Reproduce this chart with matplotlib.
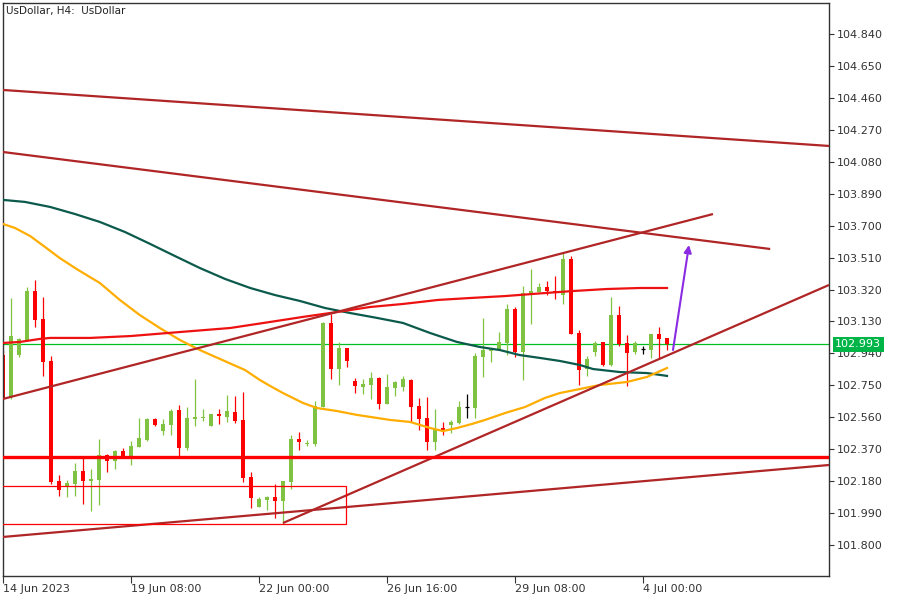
import matplotlib
matplotlib.use('Agg')
import matplotlib.pyplot as plt
from matplotlib.transforms import blended_transform_factory
from matplotlib.patches import Rectangle

# ---------------- data (H4 candles, bar index 0 = 14 Jun 2023) ----------------
opens = [102.930, 102.680, 102.930, 103.020, 103.311, 103.145, 102.895, 102.181, 102.151, 102.163,
         102.240, 102.181, 102.187, 102.336, 102.300, 102.359, 102.330, 102.383, 102.425, 102.550,
         102.478, 102.514, 102.603, 102.377, 102.550, 102.556, 102.508, 102.579, 102.562, 102.591,
         102.544, 102.205, 102.026, 102.068, 102.086, 102.062, 102.175, 102.431, 102.401, 102.401,
         102.621, 103.121, 102.847, 102.972, 102.776, 102.740, 102.752, 102.794, 102.639, 102.734,
         102.740, 102.782, 102.627, 102.556, 102.413, 102.496, 102.514, 102.526, 102.621, 102.615,
         102.918, 102.954, 102.960, 103.002, 103.204, 102.948, 103.293, 103.305, 103.335, 103.311,
         103.287, 103.501, 103.061, 102.847, 102.948, 103.008, 102.871, 103.168, 103.002, 102.948,
         102.966, 102.960, 103.055, 103.032]
highs = [102.960, 103.270, 103.032, 103.335, 103.377, 103.275, 102.924, 102.217, 102.187, 102.288,
         102.318, 102.252, 102.431, 102.340, 102.365, 102.377, 102.419, 102.556, 102.556, 102.556,
         102.550, 102.609, 102.633, 102.621, 102.788, 102.609, 102.579, 102.609, 102.692, 102.686,
         102.710, 102.234, 102.086, 102.092, 102.163, 102.181, 102.454, 102.472, 102.425, 102.657,
         103.127, 103.174, 103.008, 102.972, 102.794, 102.788, 102.829, 102.800, 102.817, 102.776,
         102.805, 102.788, 102.675, 102.680, 102.609, 102.532, 102.544, 102.657, 102.698, 102.942,
         103.150, 102.972, 103.067, 103.234, 103.216, 103.341, 103.442, 103.359, 103.371, 103.400,
         103.543, 103.519, 103.079, 102.924, 103.014, 103.008, 103.275, 103.222, 103.049, 103.014,
         102.984, 103.055, 103.097, 103.032]
lows = [102.663, 102.669, 102.918, 103.014, 103.097, 102.805, 102.163, 102.092, 102.086, 102.092,
        102.044, 102.002, 102.038, 102.234, 102.252, 102.324, 102.276, 102.383, 102.419, 102.508,
        102.454, 102.454, 102.324, 102.365, 102.508, 102.538, 102.508, 102.520, 102.532, 102.526,
        102.175, 102.020, 102.026, 102.008, 101.961, 101.925, 102.133, 102.365, 102.389, 102.389,
        102.621, 102.788, 102.752, 102.859, 102.704, 102.698, 102.669, 102.609, 102.639, 102.686,
        102.716, 102.532, 102.484, 102.365, 102.365, 102.454, 102.466, 102.520, 102.556, 102.556,
        102.800, 102.889, 102.960, 102.930, 102.918, 102.782, 103.115, 103.305, 103.287, 103.264,
        103.234, 103.055, 102.752, 102.805, 102.924, 102.865, 102.865, 102.984, 102.746, 102.936,
        102.936, 102.913, 102.907, 102.960]
closes = [102.675, 103.043, 103.026, 103.311, 103.139, 102.889, 102.175, 102.127, 102.169, 102.240,
          102.181, 102.193, 102.336, 102.300, 102.359, 102.324, 102.389, 102.437, 102.550, 102.514,
          102.520, 102.597, 102.377, 102.556, 102.562, 102.562, 102.579, 102.567, 102.597, 102.538,
          102.199, 102.080, 102.074, 102.086, 102.062, 102.181, 102.431, 102.413, 102.407, 102.627,
          103.121, 102.847, 102.972, 102.895, 102.746, 102.758, 102.794, 102.639, 102.740, 102.770,
          102.788, 102.621, 102.550, 102.413, 102.490, 102.478, 102.532, 102.621, 102.621, 102.924,
          102.960, 102.972, 103.008, 103.204, 102.948, 103.299, 103.311, 103.335, 103.311, 103.299,
          103.501, 103.055, 102.841, 102.907, 103.002, 102.871, 103.168, 102.996, 102.942, 103.002,
          102.966, 103.055, 103.026, 102.993]

# moving averages (bar index, price)
ma_slow_x = [0, 2.75, 5.9, 9, 12.1, 15.25, 18.4, 21.5, 24.6, 27.75, 30.9, 34, 37.1, 40.25, 43.4,
             46.75, 50, 53.4, 56.75, 59.6, 62.1, 64.6, 67.1, 69.6, 72.1, 73.75, 77.1, 80.5, 83]
ma_slow_y = [103.853, 103.841, 103.811, 103.769, 103.722, 103.662, 103.591, 103.519, 103.448, 103.383,
             103.329, 103.287, 103.252, 103.210, 103.180, 103.151, 103.121, 103.061, 103.008, 102.978,
             102.960, 102.930, 102.913, 102.895, 102.871, 102.847, 102.829, 102.823, 102.806]
ma_fast_x = [0, 1.5, 3.4, 5.25, 7.1, 9.4, 12.1, 14.6, 17.1, 19.6, 22.1, 24.6, 27.4, 30.25, 32.1,
             33.4, 35, 37.5, 39.25, 41.75, 44.25, 46.75, 48.4, 50.9, 53.4, 55, 56.75, 58.6, 60.25,
             62.75, 65.25, 67.75, 69.6, 72.1, 74.6, 78, 80.5, 83]
ma_fast_y = [103.710, 103.686, 103.638, 103.573, 103.507, 103.436, 103.359, 103.258, 103.168, 103.091,
             103.020, 102.960, 102.901, 102.841, 102.782, 102.746, 102.704, 102.645, 102.615, 102.597,
             102.574, 102.556, 102.544, 102.532, 102.496, 102.478, 102.496, 102.520, 102.544, 102.585,
             102.621, 102.675, 102.704, 102.728, 102.752, 102.770, 102.800, 102.853]
ma_red_x = [0, 2.1, 4.6, 5.9, 10.9, 15.9, 22.1, 28.4, 33.4, 37.5, 41.75, 45.9, 50, 54.4, 58.6,
            62.75, 67.75, 71.25, 75.5, 79.6, 83]
ma_red_y = [103.002, 103.008, 103.026, 103.032, 103.032, 103.043, 103.067, 103.091, 103.127, 103.157,
            103.186, 103.216, 103.234, 103.258, 103.270, 103.281, 103.299, 103.311, 103.323, 103.329,
            103.329]

# drawn objects: trend lines (x0, y0, x1, y1) in bar index / price
trend_lines = [(0, 104.507, 103.25, 104.174),
               (0, 104.138, 95.9, 103.561),
               (0, 102.669, 88.75, 103.769),
               (35, 101.931, 103.25, 103.347),
               (0, 101.848, 103.25, 102.276)]
support_level = 102.325
bid_price = 102.993
zone_x = [-0.5, 42.9]
zone_y = [101.925, 102.151]
arrow_from = (83.75, 102.960)
arrow_to = (85.75, 103.585)

xtick_pos = [0, 16, 32, 48, 64, 80]
xtick_labels = ['14 Jun 2023', '19 Jun 08:00', '22 Jun 00:00', '26 Jun 16:00', '29 Jun 08:00', '4 Jul 00:00']
ytick_vals = [101.800, 101.990, 102.180, 102.370, 102.560, 102.750, 102.940, 103.130, 103.320,
              103.510, 103.700, 103.890, 104.080, 104.270, 104.460, 104.650, 104.840]

# ---------------- figure ----------------
fig = plt.figure(figsize=(9, 6), dpi=100)
fig.patch.set_facecolor('white')
ax = fig.add_axes([3 / 900, 24 / 600, 826 / 900, 573 / 600])
ax.set_xlim(0, 103.25)
ax.set_ylim(101.6157, 105.0244)

GREEN = '#80c242'
RED = '#ff0000'
BROWN = '#b02525'

# bid line
ax.axhline(bid_price, color='#00c020', lw=0.9, zorder=1)

# candles
bw = 0.62
for i, (o, h, l, c) in enumerate(zip(opens, highs, lows, closes)):
    if abs(c - o) < 1e-9:
        col = 'black'
    elif c > o:
        col = GREEN
    else:
        col = RED
    ax.vlines(i, l, h, color=col, lw=0.9, zorder=2)
    if col == 'black':
        ax.hlines(o, i - bw / 2, i + bw / 2, color=col, lw=0.9, zorder=2)
    else:
        ax.bar(i, abs(c - o), bottom=min(o, c), width=bw, color=col, linewidth=0, zorder=2)

# moving averages
ax.plot(ma_slow_x, ma_slow_y, color='#0b5a4c', lw=1.6, zorder=3)
ax.plot(ma_fast_x, ma_fast_y, color='#ffad00', lw=1.6, zorder=3)
ax.plot(ma_red_x, ma_red_y, color='#ee1111', lw=1.6, zorder=3)

# objects
for x0, y0, x1, y1 in trend_lines:
    ax.plot([x0, x1], [y0, y1], color=BROWN, lw=1.6, zorder=4, solid_capstyle='butt')
ax.axhline(support_level, color=RED, lw=2.4, zorder=4)
ax.add_patch(Rectangle((zone_x[0], zone_y[0]), zone_x[1] - zone_x[0], zone_y[1] - zone_y[0],
                       fill=False, edgecolor=RED, lw=0.9, zorder=4))
ax.annotate('', xy=arrow_to, xytext=arrow_from,
            arrowprops=dict(arrowstyle='-|>', color='#8b2be2', lw=1.5, mutation_scale=11,
                            shrinkA=0, shrinkB=0), zorder=5)

# axes styling
for sp in ax.spines.values():
    sp.set_color('#333333')
    sp.set_linewidth(1.0)
ax.yaxis.tick_right()
ax.set_yticks(ytick_vals)
ax.set_yticklabels(['%.3f' % v for v in ytick_vals])
ax.set_xticks(xtick_pos)
ax.set_xticklabels(xtick_labels)
ax.tick_params(axis='y', direction='out', length=3.5, width=0.8, colors='#333333',
               labelsize=8, pad=2)
ax.tick_params(axis='x', direction='out', length=5, width=0.8, colors='#333333',
               labelsize=8, pad=1)
for lab in ax.get_xticklabels():
    lab.set_horizontalalignment('left')

# bid price label
trans = blended_transform_factory(ax.transAxes, ax.transData)
ax.text(1.0075, bid_price, '%.3f' % bid_price, transform=trans, color='white', fontsize=8,
        va='center', ha='left', clip_on=False, zorder=10,
        bbox=dict(boxstyle='square,pad=0.22', fc='#00b548', ec='none'))

# chart title
fig.text(6 / 900, 1 - 11 / 600, 'UsDollar, H4:  UsDollar', fontsize=7.5, color='#222222',
         va='center', ha='left')

fig.savefig('out.png', dpi=100, facecolor='white')
